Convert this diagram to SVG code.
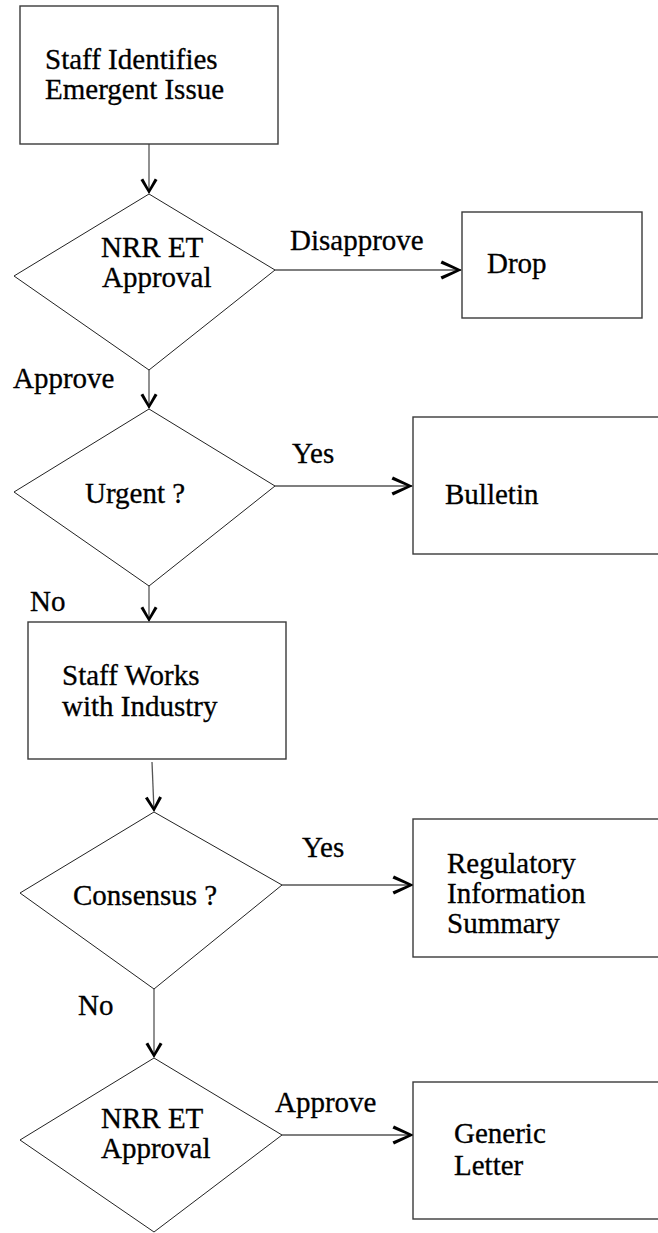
<svg xmlns="http://www.w3.org/2000/svg" width="658" height="1233" viewBox="0 0 658 1233">
<style>
.box{fill:#fff;stroke:#3a3a3a;stroke-width:1.4}
.dia{fill:#fff;stroke:#222;stroke-width:1}
.ln{stroke:#555;stroke-width:1.3;fill:none}
.t{font-family:"Liberation Serif","Times New Roman",serif;font-size:29px;fill:#000;stroke:#000;stroke-width:0.3}
</style>
<defs>
<marker id="aH" markerUnits="userSpaceOnUse" viewBox="-22 -12 24 24" markerWidth="24" markerHeight="24" refX="0" refY="0" orient="auto">
<polygon fill="#000" points="1,0 -19,-9.5 -20.5,-6.5 -5,0 -20.5,6.5 -19,9.5"/>
</marker>
<marker id="aV" markerUnits="userSpaceOnUse" viewBox="-16 -10 18 20" markerWidth="18" markerHeight="20" refX="0" refY="0" orient="auto">
<polygon fill="#000" points="1,0 -13,-8.5 -14.5,-5.8 -4,0 -14.5,5.8 -13,8.5"/>
</marker>
</defs>
<rect width="658" height="1233" fill="#fff"/>
<g id="connectors">
<line class="ln" x1="149" y1="144" x2="149" y2="193" marker-end="url(#aV)"/>
<line class="ln" x1="275" y1="270" x2="461" y2="270" marker-end="url(#aH)"/>
<line class="ln" x1="149" y1="370" x2="149" y2="408" marker-end="url(#aV)"/>
<line class="ln" x1="275" y1="486" x2="412" y2="486" marker-end="url(#aH)"/>
<line class="ln" x1="149" y1="586" x2="149" y2="621" marker-end="url(#aV)"/>
<line class="ln" x1="152" y1="762" x2="154" y2="811" marker-end="url(#aV)"/>
<line class="ln" x1="282" y1="885" x2="413" y2="885" marker-end="url(#aH)"/>
<line class="ln" x1="154" y1="989" x2="154" y2="1057" marker-end="url(#aV)"/>
<line class="ln" x1="282" y1="1135" x2="413" y2="1135" marker-end="url(#aH)"/>
<text class="t" x="290" y="250">Disapprove</text>
<text class="t" x="13" y="388">Approve</text>
<text class="t" x="292" y="463">Yes</text>
<text class="t" x="30" y="611">No</text>
<text class="t" x="302" y="857">Yes</text>
<text class="t" x="78" y="1015">No</text>
<text class="t" x="275" y="1112">Approve</text>
</g>
<g id="n-identify">
<rect class="box" x="20" y="6" width="258" height="138"/>
<text class="t" x="45" y="69">Staff Identifies</text>
<text class="t" x="45" y="99">Emergent Issue</text>
</g>
<g id="n-approval1">
<polygon class="dia" points="149,194 275,270 149,370 14,276"/>
<text class="t" x="101" y="257">NRR ET</text>
<text class="t" x="102" y="287">Approval</text>
</g>
<g id="n-drop">
<rect class="box" x="462" y="212" width="180" height="106"/>
<text class="t" x="487" y="273">Drop</text>
</g>
<g id="n-urgent">
<polygon class="dia" points="149,409 275,486 149,586 14,492"/>
<text class="t" x="85" y="503">Urgent ?</text>
</g>
<g id="n-bulletin">
<rect class="box" x="413" y="417" width="260" height="137"/>
<text class="t" x="445" y="504">Bulletin</text>
</g>
<g id="n-works">
<rect class="box" x="28" y="622" width="258" height="137"/>
<text class="t" x="62" y="685">Staff Works</text>
<text class="t" x="62" y="716">with Industry</text>
</g>
<g id="n-consensus">
<polygon class="dia" points="154,812 282,885 154,989 20,893"/>
<text class="t" x="73" y="905">Consensus ?</text>
</g>
<g id="n-ris">
<rect class="box" x="413" y="819" width="260" height="138"/>
<text class="t" x="447" y="873">Regulatory</text>
<text class="t" x="447" y="903">Information</text>
<text class="t" x="447" y="933">Summary</text>
</g>
<g id="n-approval2">
<polygon class="dia" points="154,1058 282,1135 154,1232 20,1140"/>
<text class="t" x="101" y="1128">NRR ET</text>
<text class="t" x="101" y="1158">Approval</text>
</g>
<g id="n-generic">
<rect class="box" x="413" y="1082" width="260" height="137"/>
<text class="t" x="454" y="1143">Generic</text>
<text class="t" x="454" y="1175">Letter</text>
</g>
</svg>
